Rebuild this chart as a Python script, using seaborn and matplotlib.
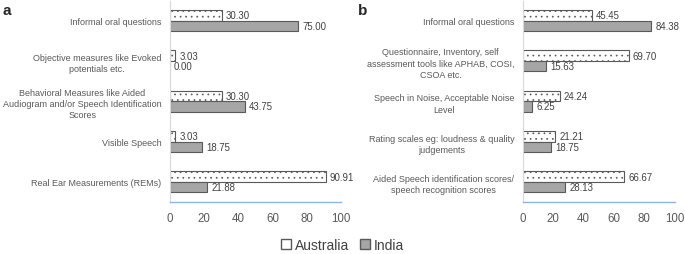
import matplotlib
matplotlib.use("Agg")
import matplotlib.pyplot as plt
import seaborn as sns
import pandas as pd
from matplotlib.patches import Patch

sns.set_style("white")
plt.rcParams['font.family'] = ['Liberation Sans', 'DejaVu Sans']
plt.rcParams['hatch.linewidth'] = 0.5

countries = ["Australia", "India"]

cats_a = ["Informal oral questions",
          "Objective measures like Evoked\npotentials etc.",
          "Behavioral Measures like Aided\nAudiogram and/or Speech Identification\nScores",
          "Visible Speech",
          "Real Ear Measurements (REMs)"]
aus_a = [30.30, 3.03, 30.30, 3.03, 90.91]
ind_a = [75.00, 0.00, 43.75, 18.75, 21.88]

cats_b = ["Informal oral questions",
          "Questionnaire, Inventory, self\nassessment tools like APHAB, COSI,\nCSOA etc.",
          "Speech in Noise, Acceptable Noise\nLevel",
          "Rating scales eg: loudness & quality\njudgements",
          "Aided Speech identification scores/\nspeech recognition scores"]
aus_b = [45.45, 69.70, 24.24, 21.21, 66.67]
ind_b = [84.38, 15.63, 6.25, 18.75, 28.13]

xticks = [0, 20, 40, 60, 80, 100]

face = {"Australia": "white", "India": "#a6a6a6"}
hatch = {"Australia": "...", "India": None}
edge = "#595959"
txt = "#404040"
axis_blue = "#8eb4e3"

fig = plt.figure(figsize=(6.85, 2.55), dpi=100)
ax_a = fig.add_axes([0.248, 0.204, 0.25, 0.79])
ax_b = fig.add_axes([0.763, 0.204, 0.222, 0.79])


def panel(ax, cats, aus, ind):
    df = pd.DataFrame({
        "cat": cats * 2,
        "val": aus + ind,
        "country": ["Australia"] * len(cats) + ["India"] * len(cats),
    })
    sns.barplot(data=df, y="cat", x="val", hue="country", hue_order=countries,
                order=cats, orient="h", width=0.52, palette=face,
                edgecolor=edge, linewidth=0.8, ax=ax, legend=False)
    for cont, c in zip(ax.containers, countries):
        for p in cont.patches:
            p.set_hatch(hatch[c])
            p.set_edgecolor(edge)
        ax.bar_label(cont, fmt="%.2f", padding=3, fontsize=6.9, color=txt)
    ax.set_xlim(0, 100)
    ax.set_ylim(4.5, -0.5)
    ax.set_xticks(xticks)
    ax.set_xticklabels([str(t) for t in xticks])
    ax.set_xlabel("")
    ax.set_ylabel("")
    for s in ["top", "right"]:
        ax.spines[s].set_visible(False)
    ax.spines["left"].set_color("#d9d9d9")
    ax.spines["left"].set_linewidth(0.8)
    ax.spines["bottom"].set_color(axis_blue)
    ax.spines["bottom"].set_linewidth(1.0)
    ax.tick_params(axis="x", direction="inout", length=4, width=0.8,
                   color=axis_blue, labelsize=8.3, labelcolor="#595959", pad=5)
    ax.tick_params(axis="y", length=0, labelsize=6.5, labelcolor="#595959", pad=6)
    for lbl in ax.get_yticklabels():
        lbl.set_multialignment("center")
        lbl.set_linespacing(1.35)


panel(ax_a, cats_a, aus_a, ind_a)
panel(ax_b, cats_b, aus_b, ind_b)

fig.text(0.003, 0.985, "a", fontsize=11, fontweight="bold", va="top", ha="left")
fig.text(0.523, 0.985, "b", fontsize=11, fontweight="bold", va="top", ha="left")

handles = [Patch(facecolor=face[c], edgecolor=edge, label=c) for c in countries]
fig.legend(handles=handles, loc="center", bbox_to_anchor=(0.5, 0.035), ncol=2,
           frameon=False, fontsize=10, labelcolor=txt, handlelength=0.7,
           handleheight=0.7, handletextpad=0.3, columnspacing=0.8)

fig.savefig("out.png", dpi=100)
